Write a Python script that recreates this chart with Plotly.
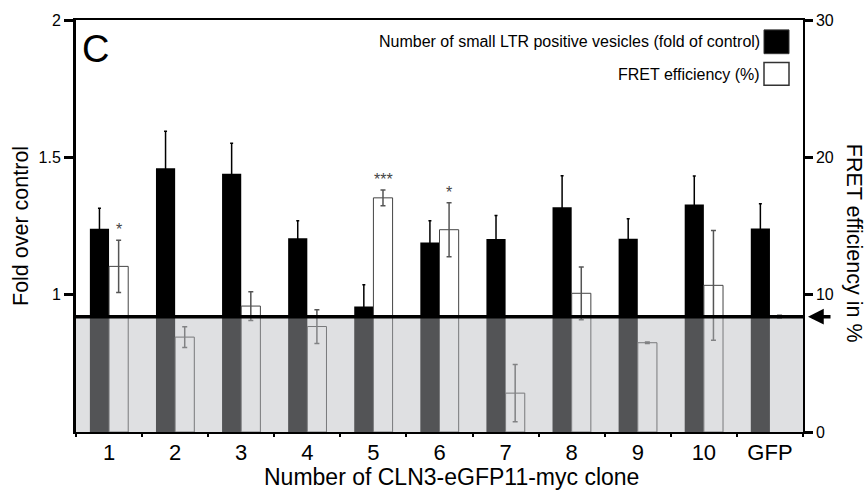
import plotly.graph_objects as go

clones = ["1", "2", "3", "4", "5", "6", "7", "8", "9", "10", "GFP"]
fold = [1.24, 1.46, 1.44, 1.205, 0.957, 1.19, 1.203, 1.318, 1.204, 1.328, 1.241]
fold_err = [0.075, 0.135, 0.111, 0.064, 0.079, 0.079, 0.085, 0.115, 0.072, 0.104, 0.09]
fret = [12.06, 6.91, 9.17, 7.68, 17.05, 14.73, 2.83, 10.1, 6.5, 10.68, 8.4]
fret_err = [1.9, 0.75, 1.05, 1.23, 0.57, 1.97, 2.08, 1.92, 0.05, 4.0, 0.1]
stars = {"1": "*", "5": "***", "6": "*"}
control_fret = fret[-1]

FONT = "Liberation Sans, Arial, sans-serif"
W, H = 865, 490
ML, MR, MT, MB = 76, 62, 16, 58
PW, PH = W - ML - MR, H - MT - MB


def px(x):
    return (x - ML) / PW


def py(y):
    return (H - MB - y) / PH


fig = go.Figure()
fig.add_trace(go.Bar(
    x=clones, y=fold, yaxis="y", offset=-0.29, width=0.29,
    marker=dict(color="black", line=dict(width=0)),
    error_y=dict(type="data", array=fold_err, color="black", thickness=1.5, width=1.5),
    showlegend=False,
))
fig.add_trace(go.Bar(
    x=clones, y=fret, yaxis="y2", offset=0.0, width=0.29,
    marker=dict(color="white", line=dict(color="#444444", width=[1] * (len(clones) - 1) + [0])),
    error_y=dict(type="data", array=fret_err, color="#555555", thickness=1.5, width=2.5),
    showlegend=False,
))

shapes = [
    dict(type="rect", xref="x", yref="y2", x0=-0.55, x1=10.55, y0=-0.1, y1=control_fret,
         fillcolor="rgba(185,187,191,0.45)", line=dict(color="rgba(110,110,110,0.45)", width=2),
         layer="above"),
    dict(type="line", xref="x", yref="y2", x0=-0.55, x1=10.55, y0=control_fret, y1=control_fret,
         line=dict(color="black", width=3.5), layer="above"),
    dict(type="rect", xref="paper", yref="paper", x0=px(764), x1=px(789), y0=py(50), y1=py(26),
         fillcolor="black", line=dict(color="#333333", width=1)),
    dict(type="rect", xref="paper", yref="paper", x0=px(764), x1=px(789), y0=py(82), y1=py(59),
         fillcolor="white", line=dict(color="#333333", width=1.5)),
]

ann = [
    dict(text="C", xref="paper", yref="paper", x=px(80), y=py(45), xanchor="left", yanchor="middle",
         showarrow=False, font=dict(size=38, color="black", family=FONT)),
    dict(text="Number of small LTR positive vesicles (fold of control)", xref="paper", yref="paper",
         x=px(762), y=py(38), xanchor="right", yanchor="middle", showarrow=False,
         font=dict(size=16, color="black", family=FONT)),
    dict(text="FRET efficiency (%)", xref="paper", yref="paper",
         x=px(762), y=py(71), xanchor="right", yanchor="middle", showarrow=False,
         font=dict(size=16, color="black", family=FONT)),
    dict(text="Fold over control", xref="paper", yref="paper", x=px(21), y=py(224),
         xanchor="center", yanchor="middle", textangle=-90, showarrow=False,
         font=dict(size=21.5, color="black", family=FONT)),
    dict(text="FRET efficiency in %", xref="paper", yref="paper", x=px(854), y=py(241),
         xanchor="center", yanchor="middle", textangle=90, showarrow=False,
         font=dict(size=21.5, color="black", family=FONT)),
    dict(text="Number of CLN3-eGFP11-myc clone", xref="paper", yref="paper", x=px(451), y=py(477),
         xanchor="center", yanchor="middle", showarrow=False,
         font=dict(size=23, color="black", family=FONT)),
    dict(text="", xref="paper", yref="y2", x=px(808), y=control_fret, ax=24, ay=0,
         showarrow=True, arrowhead=2, arrowsize=0.9, arrowwidth=3.5, arrowcolor="black"),
]
for i, c in enumerate(clones):
    if c in stars:
        ann.append(dict(text=stars[c], xref="x", yref="y2", x=i, xshift=9.6,
                        y=fret[i] + fret_err[i], yanchor="bottom", showarrow=False,
                        font=dict(size=16, color="#444444", family=FONT)))

fig.update_layout(
    width=W, height=H, margin=dict(l=ML, r=MR, t=MT, b=MB),
    paper_bgcolor="white", plot_bgcolor="white",
    font=dict(family=FONT, color="black"),
    barmode="overlay",
    xaxis=dict(type="category", range=[-0.5, 10.5], showline=True, linecolor="black", linewidth=2,
               mirror=True, ticks="outside", tickson="boundaries", ticklen=3, tickwidth=1.5,
               tickcolor="black", tickfont=dict(size=22), showgrid=False, zeroline=False),
    yaxis=dict(range=[0.5, 2], tickvals=[1, 1.5, 2], ticktext=["1", "1.5", "2"], showline=True,
               linecolor="black", linewidth=3, ticks="outside", ticklen=9, tickwidth=3,
               tickcolor="black", tickfont=dict(size=16), showgrid=False, zeroline=False),
    yaxis2=dict(range=[0, 30], tickvals=[0, 10, 20, 30], overlaying="y", side="right",
                showline=True, linecolor="black", linewidth=1.5, ticks="outside", ticklen=8,
                tickwidth=3, tickcolor="black", tickfont=dict(size=16), showgrid=False,
                zeroline=False),
    shapes=shapes, annotations=ann,
)

fig.write_html("out.html", config={"displayModeBar": False},
               post_script="document.body.style.margin='0';document.body.style.overflow='hidden';")
